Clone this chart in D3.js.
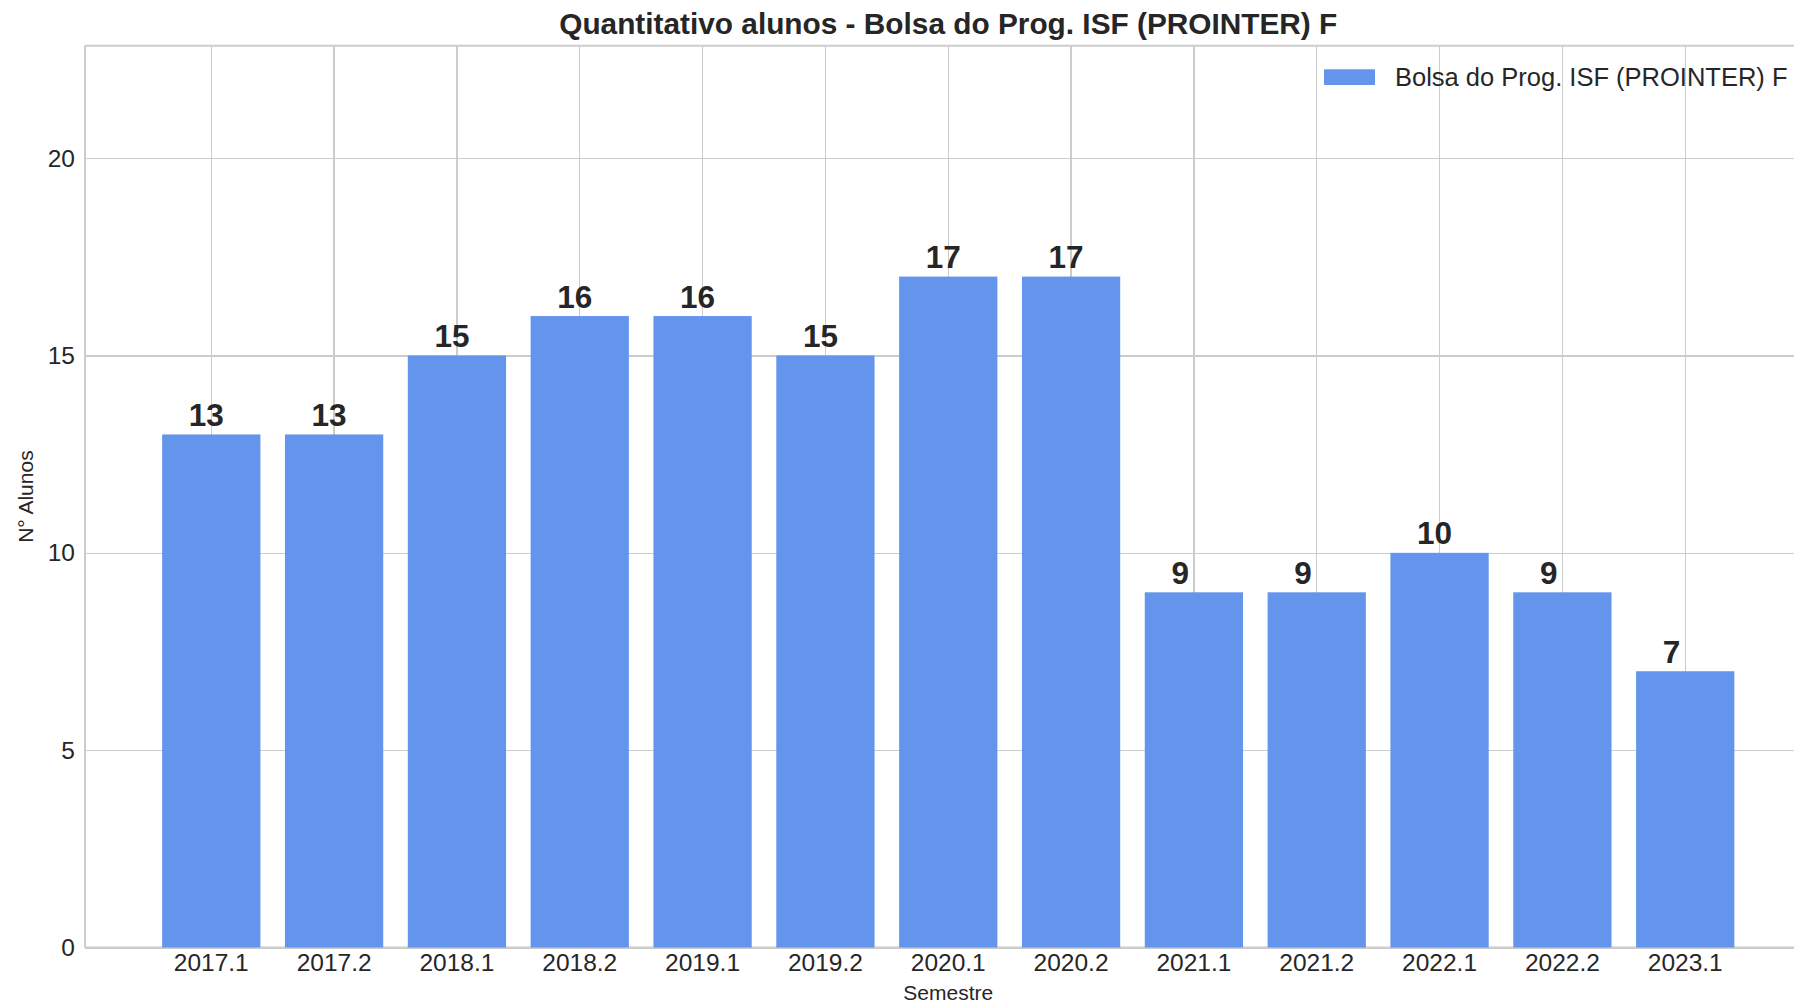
<!DOCTYPE html>
<html lang="pt">
<head>
  <meta charset="UTF-8">
  <title>Quantitativo alunos - Bolsa do Prog. ISF (PROINTER) F</title>
  <script src="https://d3js.org/d3.v7.min.js"></script>
  <style>
    body {
      margin: 0;
      overflow: hidden;
      background: #fff;
      font-family: "Liberation Sans", Arial, sans-serif;
    }
    .grid line {
      stroke: #cccccc;
      stroke-width: 1.2;
      shape-rendering: crispEdges;
    }
    .grid .domain { display: none; }
    .tick-axis .domain { display: none; }
    .tick-axis text {
      font-size: 24.5px;
      fill: #262626;
      font-family: "Liberation Sans", Arial, sans-serif;
    }
    .bar-label {
      font-size: 31.5px;
      font-weight: bold;
      fill: #262626;
    }
  </style>
</head>
<body>
  <script>
    // Data
    const semesters = ["2017.1", "2017.2", "2018.1", "2018.2", "2019.1", "2019.2", "2020.1",
                       "2020.2", "2021.1", "2021.2", "2022.1", "2022.2", "2023.1"];
    const alunos = [13, 13, 15, 16, 16, 15, 17, 17, 9, 9, 10, 9, 7];
    const yTicks = [0, 5, 10, 15, 20];
    const seriesName = "Bolsa do Prog. ISF (PROINTER) F";
    const chartTitle = "Quantitativo alunos - Bolsa do Prog. ISF (PROINTER) F";

    const W = 1794, H = 1003;
    // plot area (right side runs past the picture edge, like the original)
    const plotLeft = 85, plotRight = 1811.5, plotTop = 45.7, plotBottom = 947.5;

    const svg = d3.select("body").append("svg")
      .attr("width", W)
      .attr("height", H);

    const x = d3.scaleBand()
      .domain(semesters)
      .range([plotLeft, plotRight])
      .paddingInner(0.2)
      .paddingOuter(0.628);

    const y = d3.scaleLinear()
      .domain([0, 22.85])
      .range([plotBottom, plotTop]);

    // Gridlines
    svg.append("g")
      .attr("class", "grid")
      .attr("transform", `translate(0,${plotBottom})`)
      .call(d3.axisBottom(x).tickSize(-(plotBottom - plotTop)).tickFormat(""));

    svg.append("g")
      .attr("class", "grid")
      .attr("transform", `translate(${plotLeft},0)`)
      .call(d3.axisLeft(y).tickValues(yTicks).tickSize(-(plotRight - plotLeft)).tickFormat(""));

    // Frame (left, top, bottom spines)
    const spine = svg.append("g")
      .attr("stroke", "#cccccc")
      .attr("stroke-width", 2);
    spine.append("line").attr("x1", plotLeft).attr("x2", plotLeft).attr("y1", plotTop).attr("y2", plotBottom);
    spine.append("line").attr("x1", plotLeft).attr("x2", plotRight).attr("y1", plotTop).attr("y2", plotTop);
    spine.append("line").attr("x1", plotLeft).attr("x2", plotRight).attr("y1", plotBottom).attr("y2", plotBottom);

    // Bars
    svg.selectAll(".bar")
      .data(alunos)
      .enter()
      .append("rect")
      .attr("class", "bar")
      .attr("x", (d, i) => x(semesters[i]))
      .attr("y", d => y(d))
      .attr("width", x.bandwidth())
      .attr("height", d => y(0) - y(d))
      .attr("fill", "#6495ed");

    // Value labels (left-anchored a bit left of bar centre)
    svg.selectAll(".bar-label")
      .data(alunos)
      .enter()
      .append("text")
      .attr("class", "bar-label")
      .attr("x", (d, i) => x(semesters[i]) + x.bandwidth() / 2 - 22.5)
      .attr("y", d => y(d) - 8.5)
      .attr("text-anchor", "start")
      .text(d => d);

    // Tick labels
    svg.append("g")
      .attr("class", "tick-axis")
      .attr("transform", `translate(0,${plotBottom})`)
      .call(d3.axisBottom(x).tickSize(0).tickPadding(6.5));

    svg.append("g")
      .attr("class", "tick-axis")
      .attr("transform", `translate(${plotLeft},0)`)
      .call(d3.axisLeft(y).tickValues(yTicks).tickSize(0).tickPadding(10));

    // Title
    svg.append("text")
      .attr("x", (plotLeft + plotRight) / 2)
      .attr("y", 34)
      .attr("text-anchor", "middle")
      .style("font-size", "29.8px")
      .style("font-weight", "bold")
      .style("fill", "#262626")
      .text(chartTitle);

    // Axis titles
    svg.append("text")
      .attr("x", (plotLeft + plotRight) / 2)
      .attr("y", 1000)
      .attr("text-anchor", "middle")
      .style("font-size", "21px")
      .style("fill", "#262626")
      .text("Semestre");

    svg.append("text")
      .attr("transform", `translate(33,${(plotTop + plotBottom) / 2}) rotate(-90)`)
      .attr("text-anchor", "middle")
      .style("font-size", "21px")
      .style("fill", "#262626")
      .text("N° Alunos");

    // Legend
    const legend = svg.append("g").attr("transform", "translate(1324,69.3)");
    legend.append("rect")
      .attr("width", 51)
      .attr("height", 15.7)
      .attr("fill", "#6495ed");
    legend.append("text")
      .attr("x", 71)
      .attr("y", 16.8)
      .style("font-size", "25.5px")
      .style("fill", "#262626")
      .text(seriesName);
  </script>
</body>
</html>
